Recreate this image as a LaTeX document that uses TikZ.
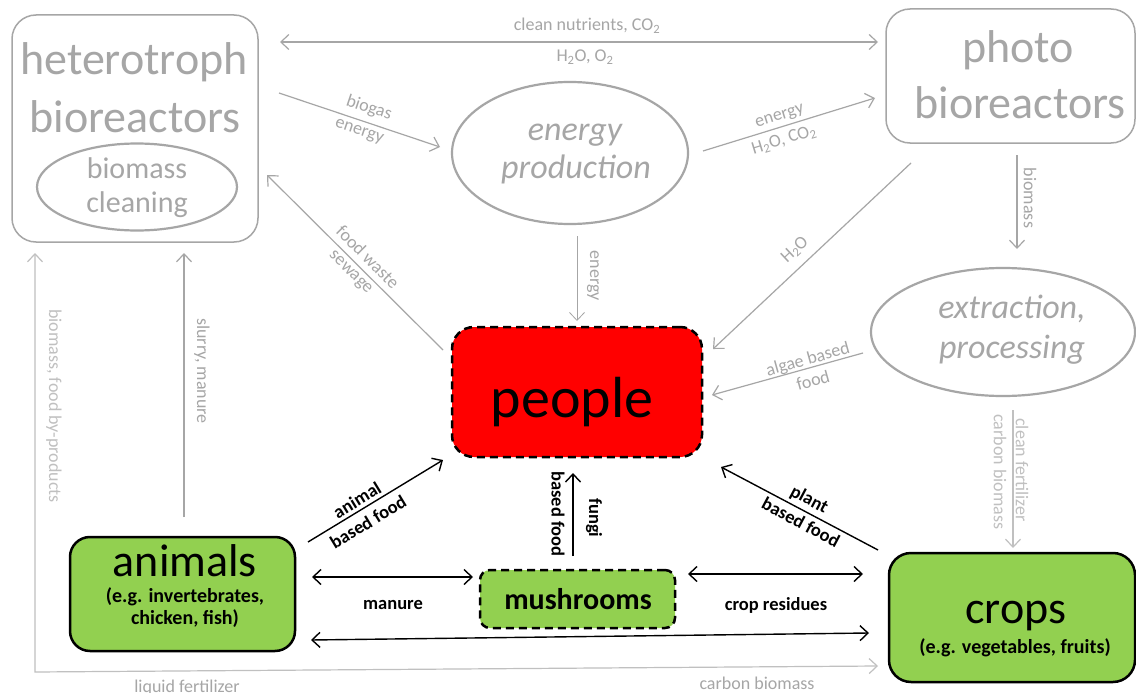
\documentclass[tikz,border=0pt]{standalone}
\usepackage{fontspec}
\setmainfont{Carlito}
\usetikzlibrary{arrows.meta,shapes.geometric}
\definecolor{lg}{HTML}{A6A6A6}
\definecolor{llg}{HTML}{C0C0C0}
\definecolor{pgreen}{HTML}{92D050}
\definecolor{pred}{HTML}{FF0000}
\newcommand{\fs}[1]{\fontsize{#1}{#1}\selectfont}
\newcommand{\subtwo}{\textsubscript{2}}
\begin{document}
\begin{tikzpicture}[x=1pt,y=-1pt,
  gbox/.style={draw=lg, line width=1.5pt, rounded corners=24pt, inner sep=0pt},
  gell/.style={ellipse, draw=lg, line width=2.2pt, inner sep=0pt},
  txt/.style={anchor=base, inner sep=0pt},
  gtxt/.style={txt, text=lg},
  gtip/.style={-{Straight Barb[length=8pt,width=15pt]}},
  garr/.style={draw=lg, line width=1.2pt, gtip},
  garrb/.style={draw=lg, line width=1.2pt, {Straight Barb[length=8pt,width=15pt]}-{Straight Barb[length=8pt,width=15pt]}},
  glab/.style={text=lg, font=\fs{18}, inner sep=0pt},
  barr/.style={draw=black, line width=1.4pt, -{Straight Barb[length=8pt,width=15pt]}},
  barrb/.style={draw=black, line width=1.4pt, {Straight Barb[length=8pt,width=15pt]}-{Straight Barb[length=8pt,width=15pt]}},
  blab/.style={font=\bfseries\fs{18.5}, inner sep=0pt},
  dashbox/.style={draw=black, fill=#1, line width=2.5pt, dash pattern=on 8pt off 5pt},
  solidbox/.style={draw=black, fill=pgreen, line width=2.5pt}
]
\useasboundingbox (0,0) rectangle (1136,693);
\fill[white] (0,0) rectangle (1136,693);

% heterotroph bioreactors
\node[gbox, minimum width=246pt, minimum height=227pt] (het) at (135,128.5) {};
\node[gtxt, font=\fs{46}] (het1) at (134,75) {heterotroph};
\node[gtxt, font=\fs{46}] (het2) at (135,132) {bioreactors};
\node[gell, minimum width=200pt, minimum height=87pt] (cln) at (137,187) {};
\node[gtxt, font=\fs{30}] (cln1) at (137,178) {biomass};
\node[gtxt, font=\fs{30}] (cln2) at (137,212) {cleaning};

% photo bioreactors
\node[gbox, minimum width=249pt, minimum height=134pt] (pho) at (1010.5,76) {};
\node[gtxt, font=\fs{46}] (pho1) at (1018,63) {photo};
\node[gtxt, font=\fs{46}] (pho2) at (1020,118) {bioreactors};

% energy production
\node[gell, minimum width=236pt, minimum height=142pt] (enp) at (570,153) {};
\node[gtxt, font=\itshape\fs{34}] (enp1) at (575,140) {energy};
\node[gtxt, font=\itshape\fs{34}] (enp2) at (576,178) {production};

% extraction, processing
\node[gell, minimum width=264pt, minimum height=128pt] (ext) at (1003,332) {};
\node[gtxt, font=\itshape\fs{34}] (ext1) at (1012,318) {extraction,};
\node[gtxt, font=\itshape\fs{34}] (ext2) at (1012,358) {processing};

% people
\node[dashbox=pred, rounded corners=22pt, minimum width=250pt, minimum height=130pt] (ppl) at (577,392) {};
\node[txt, font=\fs{58}] (ppl1) at (572,417) {people};

% animals
\node[solidbox, rounded corners=20pt, minimum width=225pt, minimum height=114pt] (ani) at (182.5,594) {};
\node[txt, font=\fs{46}] (ani1) at (185,576) {animals};
\node[txt, font=\bfseries\fs{20}] (ani2) at (185,602) {(e.g. invertebrates,};
\node[txt, font=\bfseries\fs{20}] (ani3) at (185,624) {chicken, fish)};

% mushrooms
\node[dashbox=pgreen, rounded corners=10pt, minimum width=195pt, minimum height=58pt] (mus) at (577.5,599) {};
\node[txt, font=\bfseries\fs{30}] (mus1) at (578,609) {mushrooms};

% crops
\node[solidbox, rounded corners=22pt, minimum width=246pt, minimum height=129pt] (crp) at (1012,617.5) {};
\node[txt, font=\fs{46}] (crp1) at (1016,623) {crops};
\node[txt, font=\bfseries\fs{20}] (crp2) at (1015,653) {(e.g. vegetables, fruits)};

% connector end points
\coordinate (t1) at (280,42);   \coordinate (t2) at (878,42);
\coordinate (bg1) at (279,93);  \coordinate (bg2) at (440,147);
\coordinate (ep1) at (703,151); \coordinate (ep2) at (875,98);
\coordinate (ed1) at (577,236); \coordinate (ed2) at (577,321);
\coordinate (fw1) at (443,350); \coordinate (fw2) at (267,175);
\coordinate (h1) at (911,163);  \coordinate (h2) at (713,349);
\coordinate (bm1) at (1017,155); \coordinate (bm2) at (1017,249);
\coordinate (al1) at (863,353); \coordinate (al2) at (712,395);
\coordinate (cf1) at (1013,410); \coordinate (cf2) at (1013,548);
\coordinate (sl1) at (184,517); \coordinate (sl2) at (184,253);
\coordinate (lp1) at (35,253);  \coordinate (lp2) at (35,672); \coordinate (lp3) at (878,666);
\coordinate (an1) at (308,542); \coordinate (an2) at (443,460);
\coordinate (fu1) at (573,556); \coordinate (fu2) at (573,473);
\coordinate (pl1) at (878,550); \coordinate (pl2) at (721,467);
\coordinate (mn1) at (312,577); \coordinate (mn2) at (473,577);
\coordinate (cr1) at (688,574); \coordinate (cr2) at (863,574);
\coordinate (lg1) at (311,640); \coordinate (lg2) at (869,633);

% gray connectors
\draw[garrb] (t1) -- (t2);
\draw[garr] (bg1) -- (bg2);
\draw[garr] (ep1) -- (ep2);
\draw[garr, line width=0.8pt] (ed1) -- (ed2);
\draw[garr] (fw1) -- (fw2);
\draw[garr] (h1) -- (h2);
\draw[garr] (bm1) -- (bm2);
\draw[garr] (al1) -- (al2);
\draw[garr, draw=llg] (cf1) -- (cf2);
\draw[garr] (sl1) -- (sl2);
\draw[garrb, draw=llg] (lp1) -- (lp2) -- (lp3);

% gray labels
\node[glab] (lt1) at (587,26) {clean nutrients, CO\subtwo};
\node[glab] (lt2) at (585,57) {H\subtwo O, O\subtwo};
\node[glab, rotate=-18.5] (lbg1) at (369,108) {biogas};
\node[glab, rotate=-18.5] (lbg2) at (359,132) {energy};
\node[glab, rotate=17] (lep1) at (780,117) {energy};
\node[glab, rotate=17] (lep2) at (784,140) {H\subtwo O, CO\subtwo};
\node[glab, rotate=-45] (lfw1) at (368,257) {food waste};
\node[glab, rotate=-45] (lfw2) at (350,273) {sewage};
\node[glab, rotate=43] (lh) at (795,250) {H\subtwo O};
\node[glab, rotate=-90] (led) at (593,276) {energy};
\node[glab, rotate=-90] (lbm) at (1030,198) {biomass};
\node[glab, rotate=15.5] (lal1) at (808,360) {algae based};
\node[glab, rotate=15.5] (lal2) at (813,380) {food};
\node[glab, rotate=-90, text=llg] (lcf1) at (1022,470) {clean fertilizer};
\node[glab, rotate=-90, text=llg] (lcf2) at (1000,472) {carbon biomass};
\node[glab, rotate=-90, text=llg] (llp1) at (54,406) {biomass, food by-products};
\node[glab, rotate=-90] (lsl) at (202,371) {slurry, manure};
\node[glab] (llp2) at (187,688) {liquid fertilizer};
\node[glab] (llp3) at (757,683) {carbon biomass};

% black connectors
\draw[barr] (an1) -- (an2);
\draw[barr] (fu1) -- (fu2);
\draw[barr] (pl1) -- (pl2);
\draw[barrb] (mn1) -- (mn2);
\draw[barrb] (cr1) -- (cr2);
\draw[barrb] (lg1) -- (lg2);

% black labels
\node[blab, rotate=31.3] (lan1) at (357,500) {animal};
\node[blab, rotate=31.3] (lan2) at (368,522) {based food};
\node[blab, rotate=-90] (lfu1) at (594,518) {fungi};
\node[blab, rotate=-90] (lfu2) at (558,514) {based food};
\node[blab, rotate=-28] (lpl1) at (809,500) {plant};
\node[blab, rotate=-28] (lpl2) at (801,522) {based food};
\node[blab] (lmn) at (393,605) {manure};
\node[blab] (lcr) at (776,605) {crop residues};
\end{tikzpicture}
\end{document}
